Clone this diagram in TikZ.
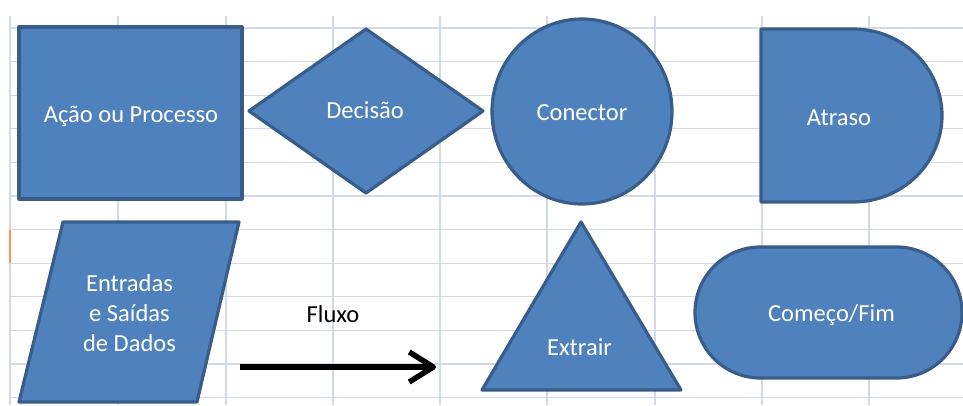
\documentclass[tikz,border=0pt]{standalone}
\usepackage{fontspec}
\setmainfont{Carlito}
\usetikzlibrary{arrows.meta}

\definecolor{shapefill}{HTML}{4F81BD}
\definecolor{shapeedge}{HTML}{385D8A}
\definecolor{gridcol}{HTML}{D3DAE7}
\definecolor{selmark}{HTML}{F79646}

\tikzset{
  shapebox/.style={fill=shapefill, draw=shapeedge, line width=3.2pt, line join=round},
  gridline/.style={draw=gridcol, line width=1.3pt},
  label/.style={text=white, font=\fontsize{24.5pt}{30pt}\selectfont, inner sep=0pt, anchor=base},
  flowlabel/.style={text=black, font=\fontsize{24.5pt}{30pt}\selectfont, inner sep=0pt, anchor=base},
  flowarrow/.style={line width=5.5pt, -{Straight Barb[length=24pt, width=30pt, line join=round]}},
}

\begin{document}
\begin{tikzpicture}[x=1pt, y=-1pt]
  \useasboundingbox (0,0) rectangle (963,405);
  \fill[white] (0,0) rectangle (963,405);

  % spreadsheet grid
  \foreach \gx in {10,118,226,333,440,547,655,762,869}
    \draw[gridline] (\gx,16) -- (\gx,405);
  \foreach \k in {0,...,11}
    \draw[gridline] (10,28+33.6*\k) -- (963,28+33.6*\k);
  \draw[selmark, line width=2pt] (10,230) -- (10,263);

  % process
  \draw[shapebox] (19,27) rectangle (242,199);
  % decision
  \draw[shapebox] (249,111) -- (366,29) -- (483,111) -- (366,193) -- cycle;
  % connector
  \draw[shapebox] (582,111.5) circle[x radius=90, y radius=92.5];
  % delay
  \draw[shapebox] (761,29) -- (853,29)
    arc[start angle=-90, end angle=90, x radius=89, y radius=86.5]
    -- (761,202) -- cycle;
  % data
  \draw[shapebox] (63,222) -- (239,222) -- (197,402) -- (19,402) -- cycle;
  % extract
  \draw[shapebox] (581,222) -- (681,390) -- (482,390) -- cycle;
  % terminator
  \draw[shapebox, rounded corners=65.5pt] (695,247) rectangle (962,378);

  % labels
  \node[label] (acao) at (131,122) {Ação ou Processo};
  \node[label] (decisao) at (365,118.5) {Decisão};
  \node[label] (conector) at (582,120) {Conector};
  \node[label] (atraso) at (839,125) {Atraso};
  \node[label, align=center, anchor=center] (dados) at (129.5,313) {Entradas\\e Saídas\\de Dados};
  \node[label] (extrair) at (579.5,355) {Extrair};
  \node[label] (comeco) at (831.5,321.5) {Começo/Fim};

  % flow
  \node[flowlabel] (fluxo) at (333,322.5) {Fluxo};
  \coordinate (flowstart) at (240,367);
  \coordinate (flowend) at (436,367);
  \draw[flowarrow] (flowstart) -- (flowend);
\end{tikzpicture}
\end{document}
